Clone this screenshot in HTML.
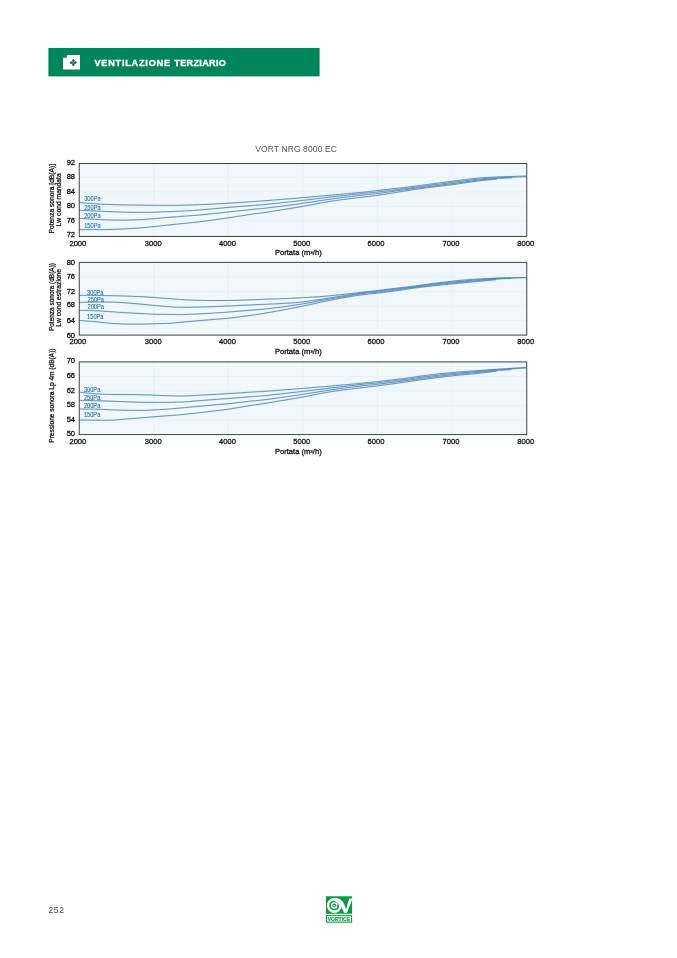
<!DOCTYPE html>
<html lang="it"><head><meta charset="utf-8"><title>Ventilazione terziario - VORT NRG 8000 EC</title>
<style>
html,body{margin:0;padding:0;background:#fff;}
body{width:677px;height:958px;overflow:hidden;position:relative;font-family:"Liberation Sans",Arial,sans-serif;}
svg{position:absolute;left:0;top:0;display:block;}
svg text{font-family:"Liberation Sans",Arial,sans-serif;}
.tk{font-size:6.7px;fill:#111;stroke:#111;stroke-width:0.25;}
.yl{font-size:6.4px;fill:#111;stroke:#111;stroke-width:0.25;}
.pa{font-size:6.4px;fill:#1f6fb0;stroke:#1f6fb0;stroke-width:0.1;}
.hl{fill:none;stroke:#a6cff2;stroke-width:1.7;stroke-opacity:0.35;}
.cv{fill:none;stroke:#4d7eb0;stroke-width:0.8;stroke-linecap:butt;}
</style></head><body>
<svg width="677" height="958" viewBox="0 0 677 958">
<rect x="0" y="0" width="677" height="958" fill="#ffffff"/>
<!-- header -->
<rect x="48.4" y="48" width="271.2" height="28.4" fill="#00855a"/>
<path d="M63 57.85 H66.9 V55 H80 V69.5 H63 Z" fill="#ffffff"/>
<g transform="translate(73.3 62.6)" fill="#0a6e46">
<ellipse cx="0" cy="-1.95" rx="1.2" ry="1.55" transform="rotate(-20 0 -1.95)"/>
<ellipse cx="1.95" cy="0" rx="1.55" ry="1.2" transform="rotate(-20 1.95 0)"/>
<ellipse cx="0" cy="1.95" rx="1.2" ry="1.55" transform="rotate(-20 0 1.95)"/>
<ellipse cx="-1.95" cy="0" rx="1.55" ry="1.2" transform="rotate(-20 -1.95 0)"/>
<circle cx="0" cy="0" r="0.95"/>
<circle cx="0" cy="0" r="0.55" fill="#8ed6b2"/>
</g>
<g font-size="9.1" font-weight="700" fill="#ffffff" stroke="#ffffff" stroke-width="0.35"><text id="hdr" y="65.6"><tspan x="94.4" textLength="75.6" lengthAdjust="spacing">VENTILAZIONE</tspan> <tspan x="174.3" textLength="51.6" lengthAdjust="spacing">TERZIARIO</tspan></text></g>
<text x="296.1" y="151.9" font-size="8.5" fill="#555" text-anchor="middle" id="ttl" letter-spacing="0.12">VORT NRG 8000 EC</text>

<g>
<rect x="79.25" y="163.50" width="447.50" height="72.95" fill="#f0f8fb"/>
<line x1="79.2" x2="526.8" y1="177.40" y2="177.40" stroke="#e2edf2" stroke-width="0.6"/>
<line x1="79.2" x2="526.8" y1="191.90" y2="191.90" stroke="#e2edf2" stroke-width="0.6"/>
<line x1="79.2" x2="526.8" y1="206.40" y2="206.40" stroke="#e2edf2" stroke-width="0.6"/>
<line x1="79.2" x2="526.8" y1="220.90" y2="220.90" stroke="#e2edf2" stroke-width="0.6"/>
<line x1="153.83" x2="153.83" y1="163.5" y2="236.4" stroke="#e2edf2" stroke-width="0.6"/>
<line x1="228.42" x2="228.42" y1="163.5" y2="236.4" stroke="#e2edf2" stroke-width="0.6"/>
<line x1="303.00" x2="303.00" y1="163.5" y2="236.4" stroke="#e2edf2" stroke-width="0.6"/>
<line x1="377.58" x2="377.58" y1="163.5" y2="236.4" stroke="#e2edf2" stroke-width="0.6"/>
<line x1="452.17" x2="452.17" y1="163.5" y2="236.4" stroke="#e2edf2" stroke-width="0.6"/>
<path class="hl" d="M79.40 202.60 C83.58 202.88 96.62 203.92 104.50 204.30 C112.38 204.68 119.30 204.75 126.70 204.90 C134.10 205.05 141.35 205.13 148.90 205.20 C156.45 205.27 163.57 205.38 172.00 205.30 C180.43 205.22 189.98 205.05 199.50 204.70 C209.02 204.35 220.48 203.70 229.10 203.20 C237.72 202.70 244.72 202.15 251.20 201.70 C257.68 201.25 259.25 201.18 268.00 200.50 C276.75 199.82 293.12 198.50 303.70 197.60 C314.28 196.70 321.78 195.98 331.50 195.10 C341.22 194.22 354.30 193.07 362.00 192.30 C369.70 191.53 370.65 191.30 377.70 190.50 C384.75 189.70 396.17 188.48 404.30 187.50 C412.43 186.52 418.42 185.65 426.50 184.60 C434.58 183.55 444.40 182.25 452.80 181.20 C461.20 180.15 469.62 179.00 476.90 178.30 C484.18 177.60 490.78 177.30 496.50 177.00 C502.22 176.70 506.30 176.67 511.20 176.50 C516.10 176.33 523.45 176.08 525.90 176.00"/>
<path class="hl" d="M79.40 210.40 C83.58 210.57 96.62 211.10 104.50 211.40 C112.38 211.70 119.30 212.05 126.70 212.20 C134.10 212.35 141.35 212.42 148.90 212.30 C156.45 212.18 163.57 211.88 172.00 211.50 C180.43 211.12 189.98 210.70 199.50 210.00 C209.02 209.30 220.48 208.03 229.10 207.30 C237.72 206.57 244.72 206.12 251.20 205.60 C257.68 205.08 259.25 205.08 268.00 204.20 C276.75 203.32 293.12 201.52 303.70 200.30 C314.28 199.08 321.78 198.02 331.50 196.90 C341.22 195.78 354.30 194.42 362.00 193.60 C369.70 192.78 370.65 192.82 377.70 192.00 C384.75 191.18 396.17 189.73 404.30 188.70 C412.43 187.67 418.42 186.85 426.50 185.80 C434.58 184.75 444.40 183.48 452.80 182.40 C461.20 181.32 469.62 180.07 476.90 179.30 C484.18 178.53 490.78 178.15 496.50 177.80 C502.22 177.45 506.30 177.40 511.20 177.20 C516.10 177.00 523.45 176.70 525.90 176.60"/>
<path class="hl" d="M79.40 218.40 C83.58 218.63 96.62 219.52 104.50 219.80 C112.38 220.08 119.30 220.22 126.70 220.10 C134.10 219.98 141.35 219.60 148.90 219.10 C156.45 218.60 163.57 217.78 172.00 217.10 C180.43 216.42 189.98 215.87 199.50 215.00 C209.02 214.13 220.48 212.82 229.10 211.90 C237.72 210.98 244.72 210.17 251.20 209.50 C257.68 208.83 259.25 208.95 268.00 207.90 C276.75 206.85 293.12 204.68 303.70 203.20 C314.28 201.72 321.78 200.33 331.50 199.00 C341.22 197.67 354.30 196.12 362.00 195.20 C369.70 194.28 370.65 194.40 377.70 193.50 C384.75 192.60 396.17 190.90 404.30 189.80 C412.43 188.70 418.42 187.93 426.50 186.90 C434.58 185.87 444.40 184.70 452.80 183.60 C461.20 182.50 469.62 181.15 476.90 180.30 C484.18 179.45 490.68 178.92 496.50 178.50 C502.32 178.08 509.25 177.92 511.80 177.80"/>
<path class="hl" d="M79.40 229.60 C83.58 229.60 96.62 229.73 104.50 229.60 C112.38 229.47 119.30 229.20 126.70 228.80 C134.10 228.40 141.35 227.90 148.90 227.20 C156.45 226.50 163.57 225.50 172.00 224.60 C180.43 223.70 189.98 222.95 199.50 221.80 C209.02 220.65 220.48 218.95 229.10 217.70 C237.72 216.45 244.72 215.25 251.20 214.30 C257.68 213.35 259.25 213.35 268.00 212.00 C276.75 210.65 293.12 208.00 303.70 206.20 C314.28 204.40 321.78 202.70 331.50 201.20 C341.22 199.70 354.30 198.18 362.00 197.20 C369.70 196.22 370.65 196.32 377.70 195.30 C384.75 194.28 396.17 192.35 404.30 191.10 C412.43 189.85 418.42 188.88 426.50 187.80 C434.58 186.72 444.40 185.72 452.80 184.60 C461.20 183.48 469.55 182.02 476.90 181.10 C484.25 180.18 493.57 179.43 496.90 179.10"/>
<path class="cv" d="M79.40 202.60 C83.58 202.88 96.62 203.92 104.50 204.30 C112.38 204.68 119.30 204.75 126.70 204.90 C134.10 205.05 141.35 205.13 148.90 205.20 C156.45 205.27 163.57 205.38 172.00 205.30 C180.43 205.22 189.98 205.05 199.50 204.70 C209.02 204.35 220.48 203.70 229.10 203.20 C237.72 202.70 244.72 202.15 251.20 201.70 C257.68 201.25 259.25 201.18 268.00 200.50 C276.75 199.82 293.12 198.50 303.70 197.60 C314.28 196.70 321.78 195.98 331.50 195.10 C341.22 194.22 354.30 193.07 362.00 192.30 C369.70 191.53 370.65 191.30 377.70 190.50 C384.75 189.70 396.17 188.48 404.30 187.50 C412.43 186.52 418.42 185.65 426.50 184.60 C434.58 183.55 444.40 182.25 452.80 181.20 C461.20 180.15 469.62 179.00 476.90 178.30 C484.18 177.60 490.78 177.30 496.50 177.00 C502.22 176.70 506.30 176.67 511.20 176.50 C516.10 176.33 523.45 176.08 525.90 176.00"/>
<path class="cv" d="M79.40 210.40 C83.58 210.57 96.62 211.10 104.50 211.40 C112.38 211.70 119.30 212.05 126.70 212.20 C134.10 212.35 141.35 212.42 148.90 212.30 C156.45 212.18 163.57 211.88 172.00 211.50 C180.43 211.12 189.98 210.70 199.50 210.00 C209.02 209.30 220.48 208.03 229.10 207.30 C237.72 206.57 244.72 206.12 251.20 205.60 C257.68 205.08 259.25 205.08 268.00 204.20 C276.75 203.32 293.12 201.52 303.70 200.30 C314.28 199.08 321.78 198.02 331.50 196.90 C341.22 195.78 354.30 194.42 362.00 193.60 C369.70 192.78 370.65 192.82 377.70 192.00 C384.75 191.18 396.17 189.73 404.30 188.70 C412.43 187.67 418.42 186.85 426.50 185.80 C434.58 184.75 444.40 183.48 452.80 182.40 C461.20 181.32 469.62 180.07 476.90 179.30 C484.18 178.53 490.78 178.15 496.50 177.80 C502.22 177.45 506.30 177.40 511.20 177.20 C516.10 177.00 523.45 176.70 525.90 176.60"/>
<path class="cv" d="M79.40 218.40 C83.58 218.63 96.62 219.52 104.50 219.80 C112.38 220.08 119.30 220.22 126.70 220.10 C134.10 219.98 141.35 219.60 148.90 219.10 C156.45 218.60 163.57 217.78 172.00 217.10 C180.43 216.42 189.98 215.87 199.50 215.00 C209.02 214.13 220.48 212.82 229.10 211.90 C237.72 210.98 244.72 210.17 251.20 209.50 C257.68 208.83 259.25 208.95 268.00 207.90 C276.75 206.85 293.12 204.68 303.70 203.20 C314.28 201.72 321.78 200.33 331.50 199.00 C341.22 197.67 354.30 196.12 362.00 195.20 C369.70 194.28 370.65 194.40 377.70 193.50 C384.75 192.60 396.17 190.90 404.30 189.80 C412.43 188.70 418.42 187.93 426.50 186.90 C434.58 185.87 444.40 184.70 452.80 183.60 C461.20 182.50 469.62 181.15 476.90 180.30 C484.18 179.45 490.68 178.92 496.50 178.50 C502.32 178.08 509.25 177.92 511.80 177.80"/>
<path class="cv" d="M79.40 229.60 C83.58 229.60 96.62 229.73 104.50 229.60 C112.38 229.47 119.30 229.20 126.70 228.80 C134.10 228.40 141.35 227.90 148.90 227.20 C156.45 226.50 163.57 225.50 172.00 224.60 C180.43 223.70 189.98 222.95 199.50 221.80 C209.02 220.65 220.48 218.95 229.10 217.70 C237.72 216.45 244.72 215.25 251.20 214.30 C257.68 213.35 259.25 213.35 268.00 212.00 C276.75 210.65 293.12 208.00 303.70 206.20 C314.28 204.40 321.78 202.70 331.50 201.20 C341.22 199.70 354.30 198.18 362.00 197.20 C369.70 196.22 370.65 196.32 377.70 195.30 C384.75 194.28 396.17 192.35 404.30 191.10 C412.43 189.85 418.42 188.88 426.50 187.80 C434.58 186.72 444.40 185.72 452.80 184.60 C461.20 183.48 469.55 182.02 476.90 181.10 C484.25 180.18 493.57 179.43 496.90 179.10"/>
<rect x="79.25" y="163.50" width="447.50" height="72.95" fill="none" stroke="#3e4244" stroke-width="1"/>
<text class="pa" x="84.2" y="201.3" textLength="16.4" lengthAdjust="spacingAndGlyphs">300Pa</text>
<text class="pa" x="84.2" y="210.1" textLength="16.4" lengthAdjust="spacingAndGlyphs">250Pa</text>
<text class="pa" x="84.2" y="217.9" textLength="16.4" lengthAdjust="spacingAndGlyphs">200Pa</text>
<text class="pa" x="84.2" y="227.5" textLength="16.4" lengthAdjust="spacingAndGlyphs">150Pa</text>
<text class="tk" transform="translate(75.1 164.8) scale(1.134 1)" text-anchor="end">92</text>
<text class="tk" transform="translate(75.1 179.2) scale(1.134 1)" text-anchor="end">88</text>
<text class="tk" transform="translate(75.1 193.7) scale(1.134 1)" text-anchor="end">84</text>
<text class="tk" transform="translate(75.1 208.0) scale(1.134 1)" text-anchor="end">80</text>
<text class="tk" transform="translate(75.1 222.6) scale(1.134 1)" text-anchor="end">76</text>
<text class="tk" transform="translate(75.1 236.8) scale(1.134 1)" text-anchor="end">72</text>
<text class="tk" transform="translate(77.85 245.5) scale(1.134 1)" text-anchor="middle">2000</text>
<text class="tk" transform="translate(153.20 245.5) scale(1.134 1)" text-anchor="middle">3000</text>
<text class="tk" transform="translate(227.50 245.5) scale(1.134 1)" text-anchor="middle">4000</text>
<text class="tk" transform="translate(301.70 245.5) scale(1.134 1)" text-anchor="middle">5000</text>
<text class="tk" transform="translate(375.90 245.5) scale(1.134 1)" text-anchor="middle">6000</text>
<text class="tk" transform="translate(450.90 245.5) scale(1.134 1)" text-anchor="middle">7000</text>
<text class="tk" transform="translate(525.80 245.5) scale(1.134 1)" text-anchor="middle">8000</text>
<text class="tk" transform="translate(298.3 255.2) scale(1.134 1)" text-anchor="middle">Portata (m³/h)</text>
<text class="yl" transform="translate(51.4 198.65) rotate(-90)" x="-34.75" y="2.3" textLength="69.5" lengthAdjust="spacingAndGlyphs">Potenza sonora [dB(A)]</text>
<text class="yl" transform="translate(58.6 199.85) rotate(-90)" x="-26.55" y="2.3" textLength="53.1" lengthAdjust="spacingAndGlyphs">Lw cond mandata</text>
</g>
<g>
<rect x="79.25" y="262.40" width="447.50" height="72.70" fill="#f0f8fb"/>
<line x1="79.2" x2="526.8" y1="276.94" y2="276.94" stroke="#e2edf2" stroke-width="0.6"/>
<line x1="79.2" x2="526.8" y1="291.48" y2="291.48" stroke="#e2edf2" stroke-width="0.6"/>
<line x1="79.2" x2="526.8" y1="306.02" y2="306.02" stroke="#e2edf2" stroke-width="0.6"/>
<line x1="79.2" x2="526.8" y1="320.56" y2="320.56" stroke="#e2edf2" stroke-width="0.6"/>
<line x1="153.83" x2="153.83" y1="262.4" y2="335.1" stroke="#e2edf2" stroke-width="0.6"/>
<line x1="228.42" x2="228.42" y1="262.4" y2="335.1" stroke="#e2edf2" stroke-width="0.6"/>
<line x1="303.00" x2="303.00" y1="262.4" y2="335.1" stroke="#e2edf2" stroke-width="0.6"/>
<line x1="377.58" x2="377.58" y1="262.4" y2="335.1" stroke="#e2edf2" stroke-width="0.6"/>
<line x1="452.17" x2="452.17" y1="262.4" y2="335.1" stroke="#e2edf2" stroke-width="0.6"/>
<path class="hl" d="M79.40 295.30 C83.58 295.35 96.62 295.47 104.50 295.60 C112.38 295.73 119.30 295.85 126.70 296.10 C134.10 296.35 142.75 296.75 148.90 297.10 C155.05 297.45 159.25 297.88 163.60 298.20 C167.95 298.52 171.47 298.73 175.00 299.00 C178.53 299.27 179.48 299.55 184.80 299.80 C190.12 300.05 199.60 300.38 206.90 300.50 C214.20 300.62 221.22 300.62 228.60 300.50 C235.98 300.38 244.63 300.03 251.20 299.80 C257.77 299.57 262.00 299.32 268.00 299.10 C274.00 298.88 281.25 298.75 287.20 298.50 C293.15 298.25 297.55 297.97 303.70 297.60 C309.85 297.23 317.02 296.88 324.10 296.30 C331.18 295.72 339.38 294.83 346.20 294.10 C353.02 293.37 359.82 292.50 365.00 291.90 C370.18 291.30 370.75 291.27 377.30 290.50 C383.85 289.73 397.93 288.07 404.30 287.30 C410.67 286.53 409.70 286.67 415.50 285.90 C421.30 285.13 431.68 283.62 439.10 282.70 C446.52 281.78 453.70 280.98 460.00 280.40 C466.30 279.82 470.90 279.58 476.90 279.20 C482.90 278.82 490.32 278.33 496.00 278.10 C501.68 277.87 506.05 277.90 511.00 277.80 C515.95 277.70 523.25 277.55 525.70 277.50"/>
<path class="hl" d="M79.40 302.40 C83.58 302.33 97.85 302.00 104.50 302.00 C111.15 302.00 114.37 302.15 119.30 302.40 C124.23 302.65 129.17 303.08 134.10 303.50 C139.03 303.92 143.98 304.43 148.90 304.90 C153.82 305.37 159.25 305.93 163.60 306.30 C167.95 306.67 171.47 306.93 175.00 307.10 C178.53 307.27 179.48 307.33 184.80 307.30 C190.12 307.27 199.60 307.12 206.90 306.90 C214.20 306.68 221.22 306.33 228.60 306.00 C235.98 305.67 244.63 305.20 251.20 304.90 C257.77 304.60 262.00 304.48 268.00 304.20 C274.00 303.92 281.25 303.60 287.20 303.20 C293.15 302.80 297.55 302.53 303.70 301.80 C309.85 301.07 317.02 299.87 324.10 298.80 C331.18 297.73 339.38 296.43 346.20 295.40 C353.02 294.37 359.82 293.28 365.00 292.60 C370.18 291.92 370.75 292.07 377.30 291.30 C383.85 290.53 397.93 288.78 404.30 288.00 C410.67 287.22 409.70 287.35 415.50 286.60 C421.30 285.85 431.68 284.38 439.10 283.50 C446.52 282.62 453.70 281.90 460.00 281.30 C466.30 280.70 470.90 280.35 476.90 279.90 C482.90 279.45 490.32 278.92 496.00 278.60 C501.68 278.28 506.05 278.15 511.00 278.00 C515.95 277.85 523.25 277.75 525.70 277.70"/>
<path class="hl" d="M79.40 310.40 C82.37 310.47 90.55 310.48 97.20 310.80 C103.85 311.12 113.15 311.90 119.30 312.30 C125.45 312.70 129.17 312.92 134.10 313.20 C139.03 313.48 143.98 313.80 148.90 314.00 C153.82 314.20 159.25 314.32 163.60 314.40 C167.95 314.48 171.47 314.48 175.00 314.50 C178.53 314.52 179.48 314.67 184.80 314.50 C190.12 314.33 199.60 313.92 206.90 313.50 C214.20 313.08 221.22 312.57 228.60 312.00 C235.98 311.43 244.63 310.65 251.20 310.10 C257.77 309.55 262.00 309.35 268.00 308.70 C274.00 308.05 281.25 307.03 287.20 306.20 C293.15 305.37 297.55 304.73 303.70 303.70 C309.85 302.67 317.02 301.23 324.10 300.00 C331.18 298.77 339.38 297.42 346.20 296.30 C353.02 295.18 359.82 293.98 365.00 293.30 C370.18 292.62 370.75 292.97 377.30 292.20 C383.85 291.43 397.93 289.53 404.30 288.70 C410.67 287.87 409.70 287.93 415.50 287.20 C421.30 286.47 431.68 285.13 439.10 284.30 C446.52 283.47 453.70 282.80 460.00 282.20 C466.30 281.60 470.90 281.22 476.90 280.70 C482.90 280.18 490.32 279.50 496.00 279.10 C501.68 278.70 508.50 278.43 511.00 278.30"/>
<path class="hl" d="M79.40 320.50 C82.37 320.73 91.78 321.42 97.20 321.90 C102.62 322.38 106.98 323.03 111.90 323.40 C116.82 323.77 121.77 323.98 126.70 324.10 C131.63 324.22 136.58 324.17 141.50 324.10 C146.42 324.03 151.12 323.87 156.20 323.70 C161.28 323.53 167.23 323.40 172.00 323.10 C176.77 322.80 178.98 322.42 184.80 321.90 C190.62 321.38 199.60 320.62 206.90 320.00 C214.20 319.38 221.22 318.98 228.60 318.20 C235.98 317.42 244.63 316.22 251.20 315.30 C257.77 314.38 262.00 313.73 268.00 312.70 C274.00 311.67 281.25 310.23 287.20 309.10 C293.15 307.97 297.55 307.17 303.70 305.90 C309.85 304.63 317.02 302.93 324.10 301.50 C331.18 300.07 339.38 298.48 346.20 297.30 C353.02 296.12 359.82 295.08 365.00 294.40 C370.18 293.72 370.75 294.00 377.30 293.20 C383.85 292.40 397.93 290.48 404.30 289.60 C410.67 288.72 409.70 288.63 415.50 287.90 C421.30 287.17 431.68 286.00 439.10 285.20 C446.52 284.40 453.70 283.72 460.00 283.10 C466.30 282.48 470.90 282.07 476.90 281.50 C482.90 280.93 492.82 280.00 496.00 279.70"/>
<path class="cv" d="M79.40 295.30 C83.58 295.35 96.62 295.47 104.50 295.60 C112.38 295.73 119.30 295.85 126.70 296.10 C134.10 296.35 142.75 296.75 148.90 297.10 C155.05 297.45 159.25 297.88 163.60 298.20 C167.95 298.52 171.47 298.73 175.00 299.00 C178.53 299.27 179.48 299.55 184.80 299.80 C190.12 300.05 199.60 300.38 206.90 300.50 C214.20 300.62 221.22 300.62 228.60 300.50 C235.98 300.38 244.63 300.03 251.20 299.80 C257.77 299.57 262.00 299.32 268.00 299.10 C274.00 298.88 281.25 298.75 287.20 298.50 C293.15 298.25 297.55 297.97 303.70 297.60 C309.85 297.23 317.02 296.88 324.10 296.30 C331.18 295.72 339.38 294.83 346.20 294.10 C353.02 293.37 359.82 292.50 365.00 291.90 C370.18 291.30 370.75 291.27 377.30 290.50 C383.85 289.73 397.93 288.07 404.30 287.30 C410.67 286.53 409.70 286.67 415.50 285.90 C421.30 285.13 431.68 283.62 439.10 282.70 C446.52 281.78 453.70 280.98 460.00 280.40 C466.30 279.82 470.90 279.58 476.90 279.20 C482.90 278.82 490.32 278.33 496.00 278.10 C501.68 277.87 506.05 277.90 511.00 277.80 C515.95 277.70 523.25 277.55 525.70 277.50"/>
<path class="cv" d="M79.40 302.40 C83.58 302.33 97.85 302.00 104.50 302.00 C111.15 302.00 114.37 302.15 119.30 302.40 C124.23 302.65 129.17 303.08 134.10 303.50 C139.03 303.92 143.98 304.43 148.90 304.90 C153.82 305.37 159.25 305.93 163.60 306.30 C167.95 306.67 171.47 306.93 175.00 307.10 C178.53 307.27 179.48 307.33 184.80 307.30 C190.12 307.27 199.60 307.12 206.90 306.90 C214.20 306.68 221.22 306.33 228.60 306.00 C235.98 305.67 244.63 305.20 251.20 304.90 C257.77 304.60 262.00 304.48 268.00 304.20 C274.00 303.92 281.25 303.60 287.20 303.20 C293.15 302.80 297.55 302.53 303.70 301.80 C309.85 301.07 317.02 299.87 324.10 298.80 C331.18 297.73 339.38 296.43 346.20 295.40 C353.02 294.37 359.82 293.28 365.00 292.60 C370.18 291.92 370.75 292.07 377.30 291.30 C383.85 290.53 397.93 288.78 404.30 288.00 C410.67 287.22 409.70 287.35 415.50 286.60 C421.30 285.85 431.68 284.38 439.10 283.50 C446.52 282.62 453.70 281.90 460.00 281.30 C466.30 280.70 470.90 280.35 476.90 279.90 C482.90 279.45 490.32 278.92 496.00 278.60 C501.68 278.28 506.05 278.15 511.00 278.00 C515.95 277.85 523.25 277.75 525.70 277.70"/>
<path class="cv" d="M79.40 310.40 C82.37 310.47 90.55 310.48 97.20 310.80 C103.85 311.12 113.15 311.90 119.30 312.30 C125.45 312.70 129.17 312.92 134.10 313.20 C139.03 313.48 143.98 313.80 148.90 314.00 C153.82 314.20 159.25 314.32 163.60 314.40 C167.95 314.48 171.47 314.48 175.00 314.50 C178.53 314.52 179.48 314.67 184.80 314.50 C190.12 314.33 199.60 313.92 206.90 313.50 C214.20 313.08 221.22 312.57 228.60 312.00 C235.98 311.43 244.63 310.65 251.20 310.10 C257.77 309.55 262.00 309.35 268.00 308.70 C274.00 308.05 281.25 307.03 287.20 306.20 C293.15 305.37 297.55 304.73 303.70 303.70 C309.85 302.67 317.02 301.23 324.10 300.00 C331.18 298.77 339.38 297.42 346.20 296.30 C353.02 295.18 359.82 293.98 365.00 293.30 C370.18 292.62 370.75 292.97 377.30 292.20 C383.85 291.43 397.93 289.53 404.30 288.70 C410.67 287.87 409.70 287.93 415.50 287.20 C421.30 286.47 431.68 285.13 439.10 284.30 C446.52 283.47 453.70 282.80 460.00 282.20 C466.30 281.60 470.90 281.22 476.90 280.70 C482.90 280.18 490.32 279.50 496.00 279.10 C501.68 278.70 508.50 278.43 511.00 278.30"/>
<path class="cv" d="M79.40 320.50 C82.37 320.73 91.78 321.42 97.20 321.90 C102.62 322.38 106.98 323.03 111.90 323.40 C116.82 323.77 121.77 323.98 126.70 324.10 C131.63 324.22 136.58 324.17 141.50 324.10 C146.42 324.03 151.12 323.87 156.20 323.70 C161.28 323.53 167.23 323.40 172.00 323.10 C176.77 322.80 178.98 322.42 184.80 321.90 C190.62 321.38 199.60 320.62 206.90 320.00 C214.20 319.38 221.22 318.98 228.60 318.20 C235.98 317.42 244.63 316.22 251.20 315.30 C257.77 314.38 262.00 313.73 268.00 312.70 C274.00 311.67 281.25 310.23 287.20 309.10 C293.15 307.97 297.55 307.17 303.70 305.90 C309.85 304.63 317.02 302.93 324.10 301.50 C331.18 300.07 339.38 298.48 346.20 297.30 C353.02 296.12 359.82 295.08 365.00 294.40 C370.18 293.72 370.75 294.00 377.30 293.20 C383.85 292.40 397.93 290.48 404.30 289.60 C410.67 288.72 409.70 288.63 415.50 287.90 C421.30 287.17 431.68 286.00 439.10 285.20 C446.52 284.40 453.70 283.72 460.00 283.10 C466.30 282.48 470.90 282.07 476.90 281.50 C482.90 280.93 492.82 280.00 496.00 279.70"/>
<rect x="79.25" y="262.40" width="447.50" height="72.70" fill="none" stroke="#3e4244" stroke-width="1"/>
<text class="pa" x="87.1" y="294.7" textLength="16.4" lengthAdjust="spacingAndGlyphs">300Pa</text>
<text class="pa" x="87.5" y="302.0" textLength="16.4" lengthAdjust="spacingAndGlyphs">250Pa</text>
<text class="pa" x="87.5" y="309.2" textLength="16.4" lengthAdjust="spacingAndGlyphs">200Pa</text>
<text class="pa" x="87.1" y="318.9" textLength="16.4" lengthAdjust="spacingAndGlyphs">150Pa</text>
<text class="tk" transform="translate(75.1 264.8) scale(1.134 1)" text-anchor="end">80</text>
<text class="tk" transform="translate(75.1 279.1) scale(1.134 1)" text-anchor="end">76</text>
<text class="tk" transform="translate(75.1 293.6) scale(1.134 1)" text-anchor="end">72</text>
<text class="tk" transform="translate(75.1 307.0) scale(1.134 1)" text-anchor="end">68</text>
<text class="tk" transform="translate(75.1 323.2) scale(1.134 1)" text-anchor="end">64</text>
<text class="tk" transform="translate(75.1 337.6) scale(1.134 1)" text-anchor="end">60</text>
<text class="tk" transform="translate(77.85 344.0) scale(1.134 1)" text-anchor="middle">2000</text>
<text class="tk" transform="translate(153.20 344.0) scale(1.134 1)" text-anchor="middle">3000</text>
<text class="tk" transform="translate(227.50 344.0) scale(1.134 1)" text-anchor="middle">4000</text>
<text class="tk" transform="translate(301.70 344.0) scale(1.134 1)" text-anchor="middle">5000</text>
<text class="tk" transform="translate(375.90 344.0) scale(1.134 1)" text-anchor="middle">6000</text>
<text class="tk" transform="translate(450.90 344.0) scale(1.134 1)" text-anchor="middle">7000</text>
<text class="tk" transform="translate(525.80 344.0) scale(1.134 1)" text-anchor="middle">8000</text>
<text class="tk" transform="translate(298.3 353.8) scale(1.134 1)" text-anchor="middle">Portata (m³/h)</text>
<text class="yl" transform="translate(51.6 297.05) rotate(-90)" x="-34.05" y="2.3" textLength="68.1" lengthAdjust="spacingAndGlyphs">Potenza sonora (dB(A))</text>
<text class="yl" transform="translate(58.9 297.85) rotate(-90)" x="-28.95" y="2.3" textLength="57.9" lengthAdjust="spacingAndGlyphs">Lw cond estrazione</text>
</g>
<g>
<rect x="79.25" y="361.90" width="447.50" height="72.70" fill="#f0f8fb"/>
<line x1="79.2" x2="526.8" y1="376.44" y2="376.44" stroke="#e2edf2" stroke-width="0.6"/>
<line x1="79.2" x2="526.8" y1="390.98" y2="390.98" stroke="#e2edf2" stroke-width="0.6"/>
<line x1="79.2" x2="526.8" y1="405.52" y2="405.52" stroke="#e2edf2" stroke-width="0.6"/>
<line x1="79.2" x2="526.8" y1="420.06" y2="420.06" stroke="#e2edf2" stroke-width="0.6"/>
<line x1="153.83" x2="153.83" y1="361.9" y2="434.6" stroke="#e2edf2" stroke-width="0.6"/>
<line x1="228.42" x2="228.42" y1="361.9" y2="434.6" stroke="#e2edf2" stroke-width="0.6"/>
<line x1="303.00" x2="303.00" y1="361.9" y2="434.6" stroke="#e2edf2" stroke-width="0.6"/>
<line x1="377.58" x2="377.58" y1="361.9" y2="434.6" stroke="#e2edf2" stroke-width="0.6"/>
<line x1="452.17" x2="452.17" y1="361.9" y2="434.6" stroke="#e2edf2" stroke-width="0.6"/>
<path class="hl" d="M79.40 392.20 C82.37 392.48 91.78 393.52 97.20 393.90 C102.62 394.28 105.75 394.38 111.90 394.50 C118.05 394.62 127.93 394.52 134.10 394.60 C140.27 394.68 143.98 394.83 148.90 395.00 C153.82 395.17 159.25 395.45 163.60 395.60 C167.95 395.75 171.47 395.83 175.00 395.90 C178.53 395.97 179.48 396.18 184.80 396.00 C190.12 395.82 199.60 395.20 206.90 394.80 C214.20 394.40 221.22 394.05 228.60 393.60 C235.98 393.15 244.63 392.52 251.20 392.10 C257.77 391.68 259.25 391.73 268.00 391.10 C276.75 390.47 293.12 389.15 303.70 388.30 C314.28 387.45 321.78 386.85 331.50 386.00 C341.22 385.15 354.30 383.95 362.00 383.20 C369.70 382.45 370.65 382.28 377.70 381.50 C384.75 380.72 396.17 379.53 404.30 378.50 C412.43 377.47 418.42 376.30 426.50 375.30 C434.58 374.30 444.40 373.27 452.80 372.50 C461.20 371.73 469.65 371.23 476.90 370.70 C484.15 370.17 490.62 369.68 496.30 369.30 C501.98 368.92 506.07 368.72 511.00 368.40 C515.93 368.08 523.42 367.57 525.90 367.40"/>
<path class="hl" d="M79.40 400.40 C82.37 400.45 90.55 400.52 97.20 400.70 C103.85 400.88 111.92 401.23 119.30 401.50 C126.68 401.77 134.12 402.15 141.50 402.30 C148.88 402.45 158.02 402.42 163.60 402.40 C169.18 402.38 171.47 402.28 175.00 402.20 C178.53 402.12 179.48 402.25 184.80 401.90 C190.12 401.55 199.60 400.67 206.90 400.10 C214.20 399.53 221.22 399.07 228.60 398.50 C235.98 397.93 244.63 397.23 251.20 396.70 C257.77 396.17 259.25 396.20 268.00 395.30 C276.75 394.40 293.12 392.53 303.70 391.30 C314.28 390.07 321.78 389.05 331.50 387.90 C341.22 386.75 354.30 385.25 362.00 384.40 C369.70 383.55 370.65 383.60 377.70 382.80 C384.75 382.00 396.17 380.63 404.30 379.60 C412.43 378.57 418.42 377.60 426.50 376.60 C434.58 375.60 444.40 374.43 452.80 373.60 C461.20 372.77 469.65 372.22 476.90 371.60 C484.15 370.98 490.62 370.35 496.30 369.90 C501.98 369.45 506.07 369.23 511.00 368.90 C515.93 368.57 523.42 368.07 525.90 367.90"/>
<path class="hl" d="M79.40 409.10 C82.37 409.12 90.55 409.03 97.20 409.20 C103.85 409.37 111.92 409.90 119.30 410.10 C126.68 410.30 134.12 410.52 141.50 410.40 C148.88 410.28 158.02 409.72 163.60 409.40 C169.18 409.08 171.47 408.80 175.00 408.50 C178.53 408.20 179.48 408.08 184.80 407.60 C190.12 407.12 199.60 406.27 206.90 405.60 C214.20 404.93 221.22 404.35 228.60 403.60 C235.98 402.85 244.63 401.82 251.20 401.10 C257.77 400.38 259.25 400.45 268.00 399.30 C276.75 398.15 293.12 395.78 303.70 394.20 C314.28 392.62 321.78 391.18 331.50 389.80 C341.22 388.42 354.30 386.83 362.00 385.90 C369.70 384.97 370.65 385.05 377.70 384.20 C384.75 383.35 396.17 381.87 404.30 380.80 C412.43 379.73 418.42 378.82 426.50 377.80 C434.58 376.78 444.40 375.58 452.80 374.70 C461.20 373.82 469.65 373.20 476.90 372.50 C484.15 371.80 490.53 370.98 496.30 370.50 C502.07 370.02 508.97 369.75 511.50 369.60"/>
<path class="hl" d="M79.40 420.00 C82.37 420.03 91.78 420.17 97.20 420.20 C102.62 420.23 106.98 420.40 111.90 420.20 C116.82 420.00 120.53 419.50 126.70 419.00 C132.87 418.50 142.75 417.70 148.90 417.20 C155.05 416.70 159.25 416.33 163.60 416.00 C167.95 415.67 171.47 415.48 175.00 415.20 C178.53 414.92 179.48 414.87 184.80 414.30 C190.12 413.73 199.60 412.67 206.90 411.80 C214.20 410.93 221.22 410.17 228.60 409.10 C235.98 408.03 244.63 406.43 251.20 405.40 C257.77 404.37 259.25 404.33 268.00 402.90 C276.75 401.47 293.12 398.68 303.70 396.80 C314.28 394.92 321.78 393.12 331.50 391.60 C341.22 390.08 354.30 388.67 362.00 387.70 C369.70 386.73 370.65 386.72 377.70 385.80 C384.75 384.88 396.17 383.33 404.30 382.20 C412.43 381.07 418.42 380.07 426.50 379.00 C434.58 377.93 444.40 376.72 452.80 375.80 C461.20 374.88 469.58 374.28 476.90 373.50 C484.22 372.72 493.40 371.50 496.70 371.10"/>
<path class="cv" d="M79.40 392.20 C82.37 392.48 91.78 393.52 97.20 393.90 C102.62 394.28 105.75 394.38 111.90 394.50 C118.05 394.62 127.93 394.52 134.10 394.60 C140.27 394.68 143.98 394.83 148.90 395.00 C153.82 395.17 159.25 395.45 163.60 395.60 C167.95 395.75 171.47 395.83 175.00 395.90 C178.53 395.97 179.48 396.18 184.80 396.00 C190.12 395.82 199.60 395.20 206.90 394.80 C214.20 394.40 221.22 394.05 228.60 393.60 C235.98 393.15 244.63 392.52 251.20 392.10 C257.77 391.68 259.25 391.73 268.00 391.10 C276.75 390.47 293.12 389.15 303.70 388.30 C314.28 387.45 321.78 386.85 331.50 386.00 C341.22 385.15 354.30 383.95 362.00 383.20 C369.70 382.45 370.65 382.28 377.70 381.50 C384.75 380.72 396.17 379.53 404.30 378.50 C412.43 377.47 418.42 376.30 426.50 375.30 C434.58 374.30 444.40 373.27 452.80 372.50 C461.20 371.73 469.65 371.23 476.90 370.70 C484.15 370.17 490.62 369.68 496.30 369.30 C501.98 368.92 506.07 368.72 511.00 368.40 C515.93 368.08 523.42 367.57 525.90 367.40"/>
<path class="cv" d="M79.40 400.40 C82.37 400.45 90.55 400.52 97.20 400.70 C103.85 400.88 111.92 401.23 119.30 401.50 C126.68 401.77 134.12 402.15 141.50 402.30 C148.88 402.45 158.02 402.42 163.60 402.40 C169.18 402.38 171.47 402.28 175.00 402.20 C178.53 402.12 179.48 402.25 184.80 401.90 C190.12 401.55 199.60 400.67 206.90 400.10 C214.20 399.53 221.22 399.07 228.60 398.50 C235.98 397.93 244.63 397.23 251.20 396.70 C257.77 396.17 259.25 396.20 268.00 395.30 C276.75 394.40 293.12 392.53 303.70 391.30 C314.28 390.07 321.78 389.05 331.50 387.90 C341.22 386.75 354.30 385.25 362.00 384.40 C369.70 383.55 370.65 383.60 377.70 382.80 C384.75 382.00 396.17 380.63 404.30 379.60 C412.43 378.57 418.42 377.60 426.50 376.60 C434.58 375.60 444.40 374.43 452.80 373.60 C461.20 372.77 469.65 372.22 476.90 371.60 C484.15 370.98 490.62 370.35 496.30 369.90 C501.98 369.45 506.07 369.23 511.00 368.90 C515.93 368.57 523.42 368.07 525.90 367.90"/>
<path class="cv" d="M79.40 409.10 C82.37 409.12 90.55 409.03 97.20 409.20 C103.85 409.37 111.92 409.90 119.30 410.10 C126.68 410.30 134.12 410.52 141.50 410.40 C148.88 410.28 158.02 409.72 163.60 409.40 C169.18 409.08 171.47 408.80 175.00 408.50 C178.53 408.20 179.48 408.08 184.80 407.60 C190.12 407.12 199.60 406.27 206.90 405.60 C214.20 404.93 221.22 404.35 228.60 403.60 C235.98 402.85 244.63 401.82 251.20 401.10 C257.77 400.38 259.25 400.45 268.00 399.30 C276.75 398.15 293.12 395.78 303.70 394.20 C314.28 392.62 321.78 391.18 331.50 389.80 C341.22 388.42 354.30 386.83 362.00 385.90 C369.70 384.97 370.65 385.05 377.70 384.20 C384.75 383.35 396.17 381.87 404.30 380.80 C412.43 379.73 418.42 378.82 426.50 377.80 C434.58 376.78 444.40 375.58 452.80 374.70 C461.20 373.82 469.65 373.20 476.90 372.50 C484.15 371.80 490.53 370.98 496.30 370.50 C502.07 370.02 508.97 369.75 511.50 369.60"/>
<path class="cv" d="M79.40 420.00 C82.37 420.03 91.78 420.17 97.20 420.20 C102.62 420.23 106.98 420.40 111.90 420.20 C116.82 420.00 120.53 419.50 126.70 419.00 C132.87 418.50 142.75 417.70 148.90 417.20 C155.05 416.70 159.25 416.33 163.60 416.00 C167.95 415.67 171.47 415.48 175.00 415.20 C178.53 414.92 179.48 414.87 184.80 414.30 C190.12 413.73 199.60 412.67 206.90 411.80 C214.20 410.93 221.22 410.17 228.60 409.10 C235.98 408.03 244.63 406.43 251.20 405.40 C257.77 404.37 259.25 404.33 268.00 402.90 C276.75 401.47 293.12 398.68 303.70 396.80 C314.28 394.92 321.78 393.12 331.50 391.60 C341.22 390.08 354.30 388.67 362.00 387.70 C369.70 386.73 370.65 386.72 377.70 385.80 C384.75 384.88 396.17 383.33 404.30 382.20 C412.43 381.07 418.42 380.07 426.50 379.00 C434.58 377.93 444.40 376.72 452.80 375.80 C461.20 374.88 469.58 374.28 476.90 373.50 C484.22 372.72 493.40 371.50 496.70 371.10"/>
<rect x="79.25" y="361.90" width="447.50" height="72.70" fill="none" stroke="#3e4244" stroke-width="1"/>
<text class="pa" x="83.9" y="391.5" textLength="16.4" lengthAdjust="spacingAndGlyphs">300Pa</text>
<text class="pa" x="83.9" y="399.7" textLength="16.4" lengthAdjust="spacingAndGlyphs">250Pa</text>
<text class="pa" x="83.9" y="407.8" textLength="16.4" lengthAdjust="spacingAndGlyphs">200Pa</text>
<text class="pa" x="83.9" y="417.1" textLength="16.4" lengthAdjust="spacingAndGlyphs">150Pa</text>
<text class="tk" transform="translate(75.1 363.2) scale(1.134 1)" text-anchor="end">70</text>
<text class="tk" transform="translate(75.1 378.0) scale(1.134 1)" text-anchor="end">66</text>
<text class="tk" transform="translate(75.1 392.9) scale(1.134 1)" text-anchor="end">62</text>
<text class="tk" transform="translate(75.1 407.1) scale(1.134 1)" text-anchor="end">58</text>
<text class="tk" transform="translate(75.1 421.7) scale(1.134 1)" text-anchor="end">54</text>
<text class="tk" transform="translate(75.1 435.9) scale(1.134 1)" text-anchor="end">50</text>
<text class="tk" transform="translate(77.85 443.5) scale(1.134 1)" text-anchor="middle">2000</text>
<text class="tk" transform="translate(153.20 443.5) scale(1.134 1)" text-anchor="middle">3000</text>
<text class="tk" transform="translate(227.50 443.5) scale(1.134 1)" text-anchor="middle">4000</text>
<text class="tk" transform="translate(301.70 443.5) scale(1.134 1)" text-anchor="middle">5000</text>
<text class="tk" transform="translate(375.90 443.5) scale(1.134 1)" text-anchor="middle">6000</text>
<text class="tk" transform="translate(450.90 443.5) scale(1.134 1)" text-anchor="middle">7000</text>
<text class="tk" transform="translate(525.80 443.5) scale(1.134 1)" text-anchor="middle">8000</text>
<text class="tk" transform="translate(298.3 453.5) scale(1.134 1)" text-anchor="middle">Portata (m³/h)</text>
<text class="yl" transform="translate(51.3 395.60) rotate(-90)" x="-47.15" y="2.3" textLength="94.3" lengthAdjust="spacingAndGlyphs">Pressione sonora Lp 4m (dB(A))</text>
</g>
<text x="48.4" y="913" font-size="8.4" fill="#444" letter-spacing="0.8">252</text>
<g id="logo">
<defs><clipPath id="lc"><rect x="326" y="896.3" width="26.1" height="17.5"/></clipPath></defs>
<rect x="326" y="896.3" width="26.1" height="17.5" fill="#0b9a3e"/>
<rect x="326" y="915.1" width="26.1" height="7.6" fill="#0b9a3e"/>
<rect x="327" y="916.1" width="24.1" height="5.5" fill="#ffffff"/>
<text x="327.7" y="921.0" font-size="6" font-weight="700" fill="#0b9a3e" stroke="#0b9a3e" stroke-width="0.2" textLength="22.4" lengthAdjust="spacingAndGlyphs">VORTICE</text>
<g clip-path="url(#lc)" fill="none" stroke="#ffffff">
<circle cx="334.3" cy="905.5" r="6.25" stroke-width="2.5"/>
<circle cx="334.2" cy="905.6" r="2.65" stroke-width="1.25"/>
<circle cx="334.1" cy="905.7" r="0.75" fill="#ffffff" stroke="none"/>
<path d="M334.1 905.7 C335.2 905.2 335.6 906.4 335.0 907.6" stroke-width="0.7"/>
<path d="M334.3 897.95 C338.5 897.9 341.5 899.3 343.2 902.3 C344.4 904.6 345.3 907.2 346.1 909.3 L349.2 898.4 L352.1 898.4 L352.1 899.8 L347.0 912.85 L344.0 912.85 C343.3 911 342.8 909.6 342.0 908.0 L339 905 L334.3 900.5 Z" fill="#ffffff" stroke="none"/>
</g></g>
</svg></body></html>
